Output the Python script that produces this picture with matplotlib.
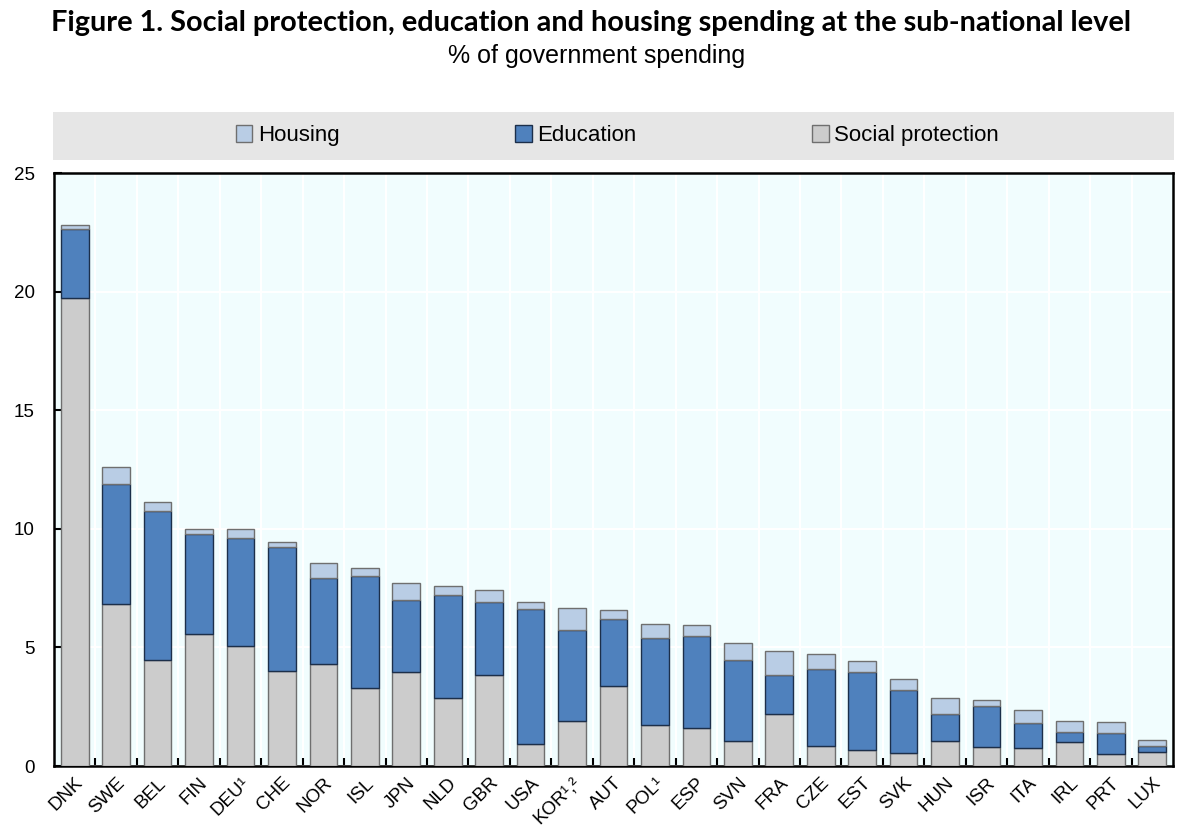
import numpy as np
import matplotlib
matplotlib.use("Agg")
import matplotlib.pyplot as plt
from matplotlib.patches import Patch, Rectangle

# ----------------------------------------------------------------------
# Dados (% do gasto do governo, nível subnacional)
# ----------------------------------------------------------------------
paises = ["DNK", "SWE", "BEL", "FIN", "DEU¹", "CHE", "NOR", "ISL", "JPN",
          "NLD", "GBR", "USA", "KOR¹,²", "AUT", "POL¹", "ESP", "SVN", "FRA",
          "CZE", "EST", "SVK", "HUN", "ISR", "ITA", "IRL", "PRT", "LUX"]

protecao_social = [19.73, 6.85, 4.46, 5.58, 5.07, 4.01, 4.32, 3.31, 3.95,
                   2.88, 3.86, 0.95, 1.89, 3.37, 1.71, 1.59, 1.07, 2.21,
                   0.84, 0.67, 0.53, 1.05, 0.80, 0.77, 1.00, 0.49, 0.58]
educacao = [2.94, 5.05, 6.30, 4.21, 4.53, 5.24, 3.59, 4.69, 3.05,
            4.35, 3.07, 5.69, 3.86, 2.83, 3.70, 3.90, 3.42, 1.65,
            3.24, 3.30, 2.69, 1.14, 1.72, 1.03, 0.42, 0.89, 0.27]
habitacao = [0.13, 0.73, 0.39, 0.21, 0.40, 0.21, 0.66, 0.36, 0.71,
             0.36, 0.51, 0.29, 0.90, 0.37, 0.58, 0.47, 0.70, 1.01,
             0.66, 0.45, 0.44, 0.66, 0.25, 0.56, 0.49, 0.48, 0.24]

# paleta
COR_SOCIAL = "#cccccc"
COR_EDUC = "#4f81bd"
COR_HAB = "#b9cde5"
COR_FUNDO = "#f1fdfe"

plt.rcParams["font.family"] = ["Liberation Sans", "DejaVu Sans"]

fig = plt.figure(figsize=(12, 8.33), dpi=100)
ax = fig.add_axes([0.045, 0.0804, 0.9325, 0.7116])
ax.set_facecolor(COR_FUNDO)

x = np.arange(len(paises))
ps = np.array(protecao_social)
ed = np.array(educacao)
hb = np.array(habitacao)
w = 0.67

ax.bar(x, ps, w, color=COR_SOCIAL, edgecolor="#6f6f6f", lw=1.0, zorder=3)
ax.bar(x, ed, w, bottom=ps, color=COR_EDUC, edgecolor="#1c2f4a", lw=1.0, zorder=3)
ax.bar(x, hb, w, bottom=ps + ed, color=COR_HAB, edgecolor="#6f6f6f", lw=1.0, zorder=3)

ax.set_xlim(-0.5, len(paises) - 0.5)
ax.set_ylim(0, 25)
ax.set_yticks([0, 5, 10, 15, 20, 25])
# ticks maiores entre as barras, rótulos nos menores
ax.set_xticks(x[:-1] + 0.5, minor=False)
ax.set_xticklabels([])
ax.set_xticks(x, minor=True)
ax.set_xticklabels(paises, minor=True, rotation=45, ha="right",
                   rotation_mode="anchor", fontsize=13.5)
ax.tick_params(axis="x", which="major", direction="in", length=6, width=1.5,
               color="black")
ax.tick_params(axis="x", which="minor", length=0, pad=6)
ax.tick_params(axis="y", direction="in", length=6, width=1.5, labelsize=13.5,
               pad=14)
ax.grid(True, which="major", color="white", lw=1.5, zorder=1)
for sp in ax.spines.values():
    sp.set_linewidth(1.8)
    sp.set_color("black")

# faixa da legenda
fig.patches.append(Rectangle((0.044, 0.808), 0.934, 0.058, transform=fig.transFigure,
                             facecolor="#e6e6e6", edgecolor="none", zorder=0))
handles = [Patch(facecolor=COR_HAB, edgecolor="#6f6f6f", label="Housing"),
           Patch(facecolor=COR_EDUC, edgecolor="#1c2f4a", label="Education"),
           Patch(facecolor=COR_SOCIAL, edgecolor="#6f6f6f", label="Social protection")]
fig.legend(handles=handles, loc="center", bbox_to_anchor=(0.5145, 0.837), ncol=3,
           frameon=False, fontsize=16, handlelength=0.75, handleheight=0.75,
           handletextpad=0.25, columnspacing=7.9)

fig.text(0.4925, 0.972, "Figure 1. Social protection, education and housing spending "
         "at the sub-national level", ha="center", va="center", fontsize=20.8,
         fontweight="bold", family=["Lato", "DejaVu Sans"])
fig.text(0.497, 0.933, "% of government spending", ha="center", va="center",
         fontsize=18)

fig.savefig("out.png", dpi=100, facecolor="white")
